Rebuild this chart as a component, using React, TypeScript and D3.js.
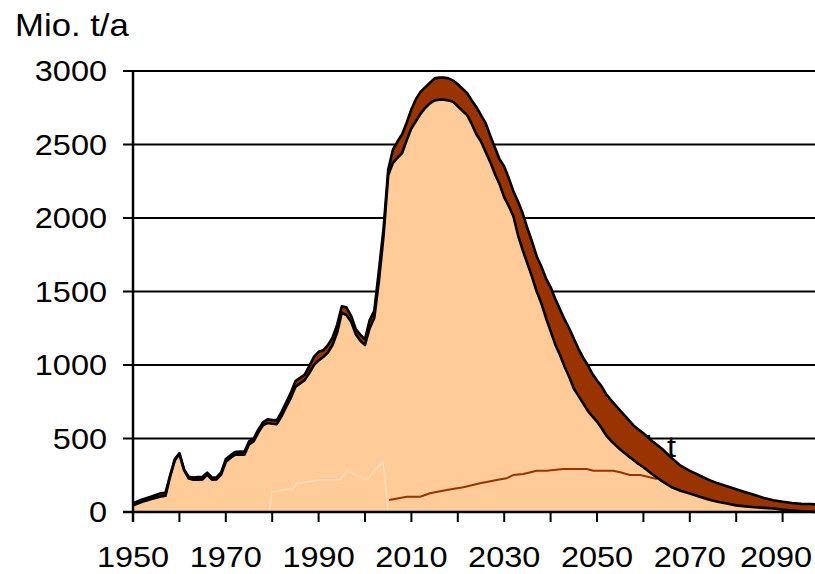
import React from 'react';
import * as d3 from 'd3';

// years for the two stacked curves
const years = [
  1950, 1952, 1954, 1956, 1957, 1958, 1959, 1960, 1961, 1962, 1963, 1964, 1965, 1966, 1967, 1968, 1969,
  1970, 1971, 1972, 1973, 1974, 1975, 1976, 1977, 1978, 1979, 1980, 1981, 1982, 1983, 1984, 1985, 1986,
  1987, 1988, 1989, 1990, 1991, 1992, 1993, 1994, 1995, 1996, 1997, 1998, 1999, 2000, 2001, 2002, 2003,
  2004, 2005, 2006, 2007, 2008, 2009, 2010, 2011, 2012, 2013, 2014, 2015, 2016, 2017, 2018, 2019, 2020,
  2021, 2022, 2023, 2024, 2025, 2026, 2027, 2028, 2029, 2030, 2031, 2032, 2033, 2034, 2035, 2036, 2037,
  2038, 2039, 2040, 2041, 2042, 2043, 2044, 2045, 2046, 2047, 2048, 2049, 2050, 2051, 2052, 2053, 2054,
  2055, 2056, 2057, 2058, 2059, 2060, 2062, 2064, 2066, 2068, 2070, 2072, 2074, 2076, 2078, 2080, 2082,
  2084, 2086, 2088, 2090, 2092, 2094, 2096, 2098, 2100,
];

// upper curve (total, top of the brown band)
const total = [
  60, 85, 105, 128, 130, 250, 360, 400, 290, 240, 235, 238, 240, 268, 235, 235, 270,
  360, 385, 408, 412, 410, 480, 500, 560, 610, 630, 625, 625, 680, 745, 810, 890, 912,
  935, 992, 1055, 1090, 1100, 1135, 1185, 1275, 1400, 1392, 1335, 1245, 1205, 1175, 1305, 1368, 1645,
  1930, 2330, 2463, 2520, 2570, 2650, 2740, 2810, 2860, 2890, 2920, 2950, 2955, 2955, 2950, 2935, 2910,
  2880, 2850, 2800, 2755, 2700, 2645, 2560, 2480, 2400, 2350, 2270, 2180, 2110, 2030, 1930, 1840, 1740,
  1670, 1590, 1530, 1450, 1380, 1310, 1250, 1180, 1110, 1050, 1000, 940, 895, 855, 800, 762, 725,
  690, 655, 620, 585, 560, 535, 480, 430, 370, 315, 280, 250, 220, 195, 175, 155, 135,
  115, 95, 80, 70, 61, 55, 54, 50, 45,
];

// lower curve (top of the light area)
const lower = [
  45, 70, 88, 105, 110, 240, 350, 395, 285, 228, 220, 220, 222, 255, 220, 222, 255,
  342, 368, 390, 392, 390, 460, 480, 540, 590, 605, 600, 598, 650, 715, 775, 850, 875,
  897, 945, 1000, 1030, 1054, 1085, 1136, 1220, 1355, 1340, 1295, 1210, 1165, 1136, 1250, 1320, 1570,
  1880, 2290, 2374, 2410, 2442, 2530, 2610, 2660, 2710, 2750, 2780, 2800, 2805, 2805, 2800, 2790, 2760,
  2730, 2700, 2640, 2570, 2520, 2450, 2380, 2300, 2230, 2140, 2080, 2010, 1880, 1780, 1690, 1600, 1500,
  1420, 1320, 1230, 1140, 1070, 990, 920, 840, 790, 740, 690, 650, 615, 570, 520, 485, 455,
  425, 400, 375, 350, 325, 305, 255, 210, 170, 145, 125, 105, 85, 70, 58, 45, 38,
  32, 28, 24, 16, 10, 5, 2, 0, 0,
];

// faint line inside the light area
const faintYears = [1979.4, 1979.9, 1984.6, 1985.3, 1990.3, 1994.6, 1996.1, 1998.9, 2000.4, 2001.8, 2003.9, 2005.0];
const faintValues = [0, 138, 161, 195, 218, 218, 281, 240, 218, 274, 342, 0];

// thin brown line
const thinYears = [2005.2, 2009, 2011.9, 2014, 2017.6, 2021.2, 2024.8, 2028.4, 2030.5, 2032, 2034.1, 2037, 2039.1, 2042.7, 2047.8, 2049.2, 2053.5, 2055, 2057.1, 2059.3, 2062.9];
const thinValues = [82, 104, 104, 127, 150, 168, 195, 218, 229, 252, 259, 281, 281, 293, 293, 281, 281, 270, 252, 252, 225];

const yTicks = [0, 500, 1000, 1500, 2000, 2500, 3000];
const xTicks = d3.range(1950, 2101, 10);
const xLabels = [1950, 1970, 1990, 2010, 2030, 2050, 2070, 2090];

const W = 815;
const H = 574;
const font = "'Liberation Sans', Arial, sans-serif";

const Txt: React.FC<{ x: number; y: number; anchor?: string; size?: number; children: React.ReactNode }> = ({ x, y, anchor = 'start', size = 29, children }) => (
  <g transform={`translate(${x},${y}) scale(1.12,1)`}>
    <text x={0} y={0} textAnchor={anchor} fontFamily={font} fontSize={size} fill="#000">
      {children}
    </text>
  </g>
);

export default function App() {
  const x = d3.scaleLinear().domain([1950, 2100]).range([133, 829]);
  const y = d3.scaleLinear().domain([0, 3000]).range([512, 71]);

  const rows = years.map((yr, i) => ({ yr, lo: lower[i], hi: total[i] }));

  const band = d3.area<typeof rows[number]>()
    .x(d => x(d.yr))
    .y0(d => y(d.lo))
    .y1(d => y(d.hi));
  const base = d3.area<typeof rows[number]>()
    .x(d => x(d.yr))
    .y0(y(0))
    .y1(d => y(d.lo));
  const hiLine = d3.line<typeof rows[number]>().x(d => x(d.yr)).y(d => y(d.hi));
  const loLine = d3.line<typeof rows[number]>().x(d => x(d.yr)).y(d => y(d.lo));
  const simple = d3.line<[number, number]>().x(d => x(d[0])).y(d => y(d[1]));

  const faint = faintYears.map((v, i) => [v, faintValues[i]] as [number, number]);
  const thin = thinYears.map((v, i) => [v, thinValues[i]] as [number, number]);

  // keep the last year label inside the picture
  const labelX = (t: number) => Math.min(x(t), W - 39);

  return (
    <svg width={W} height={H} style={{ position: 'absolute', left: 0, top: 0, background: '#fff' }}>
      {/* gridlines */}
      {yTicks.map(t => (
        <line key={t} x1={123} x2={W} y1={y(t)} y2={y(t)} stroke="#000" strokeWidth={2} />
      ))}

      {/* partly hidden label behind the areas */}
      <Txt x={645} y={457}>l</Txt>
      <Txt x={667} y={457}>t</Txt>

      <path d={band(rows) ?? ''} fill="#993300" />
      <path d={base(rows) ?? ''} fill="#FFCC99" />
      <path d={simple(faint) ?? ''} fill="none" stroke="#FFE2C4" strokeWidth={1.2} />
      <path d={simple(thin) ?? ''} fill="none" stroke="#993300" strokeWidth={2} />
      <path d={hiLine(rows) ?? ''} fill="none" stroke="#000" strokeWidth={2.6} strokeLinejoin="round" />
      <path d={loLine(rows) ?? ''} fill="none" stroke="#000" strokeWidth={2.6} strokeLinejoin="round" />

      {/* axes */}
      <line x1={133} x2={133} y1={y(3000)} y2={y(0) + 10} stroke="#000" strokeWidth={2.5} />
      <line x1={123} x2={W} y1={y(0)} y2={y(0)} stroke="#000" strokeWidth={2.5} />
      {xTicks.map(t => (
        <line key={t} x1={x(t)} x2={x(t)} y1={y(0)} y2={y(0) + 10} stroke="#000" strokeWidth={2} />
      ))}

      {yTicks.map(t => (
        <Txt key={t} x={107} y={y(t) + 10} anchor="end">{t}</Txt>
      ))}
      {xLabels.map(t => (
        <Txt key={t} x={labelX(t)} y={567} anchor="middle">{t}</Txt>
      ))}
      <Txt x={15} y={36} size={31}>Mio. t/a</Txt>
    </svg>
  );
}
